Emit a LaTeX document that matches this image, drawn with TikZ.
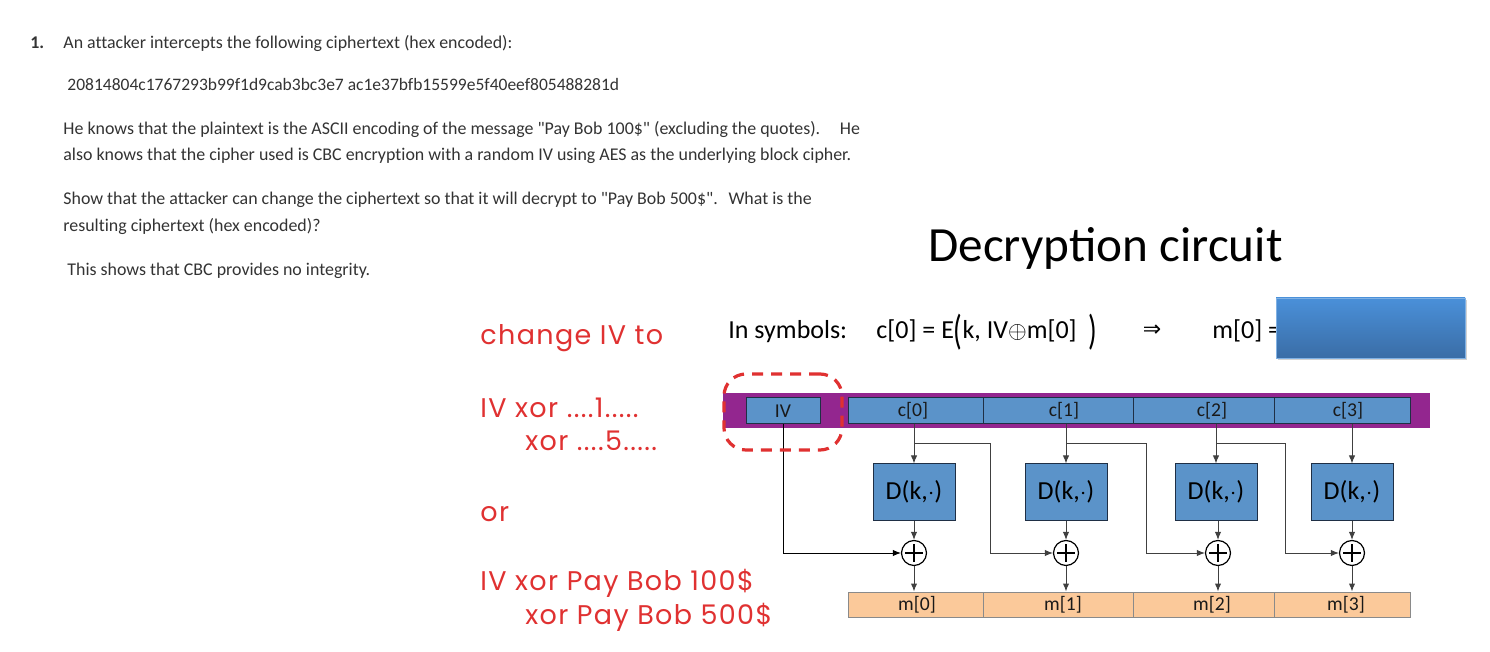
\documentclass[tikz,border=0pt]{standalone}
\usepackage{fontspec}
\setmainfont{Carlito}
\newfontfamily\bodyfont[Ligatures=NoCommon]{Carlito}
\newfontfamily\handfont[LetterSpace=5]{Poppins}
\newfontfamily\arrowfont{DejaVu Sans}
\usetikzlibrary{arrows.meta,shadows,calc}
\definecolor{barpurple}{HTML}{93268F}
\definecolor{cipherblue}{HTML}{5B93C9}
\definecolor{boxedge}{HTML}{1F2F45}
\definecolor{peach}{HTML}{FBC99A}
\definecolor{peachedge}{HTML}{8A8A8A}
\definecolor{handred}{HTML}{E03131}
\definecolor{bodytext}{HTML}{333333}
\definecolor{anstop}{HTML}{4A90D9}
\definecolor{ansbot}{HTML}{3A6DA6}
\newcommand{\sq}{\symbol{34}}
\tikzset{
  body/.style={anchor=base west, inner sep=0pt, text=bodytext, font=\bodyfont\fontsize{8.95}{10}\selectfont},
  hand/.style={anchor=base west, inner sep=0pt, text=handred, font=\handfont\fontsize{13.5}{15}\selectfont},
  cbox/.style={draw=boxedge, line width=0.5pt, fill=cipherblue, inner sep=0pt, minimum height=13pt},
  mbox/.style={draw=peachedge, line width=0.5pt, fill=peach, inner sep=0pt, minimum height=12.5pt},
  lbl/.style={inner sep=0pt, text=black!90, font=\fontsize{9.8}{10}\selectfont},
  dbox/.style={draw=boxedge, line width=0.5pt, fill=cipherblue, inner sep=0pt, minimum width=41pt, minimum height=28pt, font=\fontsize{13}{14}\selectfont},
  xorc/.style={circle, draw=black, line width=0.6pt, fill=white, inner sep=0pt, minimum size=12.5pt,
    path picture={\draw[line width=0.6pt] ([xshift=-4.3pt]path picture bounding box.center) -- ([xshift=4.3pt]path picture bounding box.center);
                  \draw[line width=0.6pt] ([yshift=-4.3pt]path picture bounding box.center) -- ([yshift=4.3pt]path picture bounding box.center);}},
  conn/.style={draw=black!75, line width=0.5pt, -{Latex[length=4pt,width=3.2pt]}},
  reddash/.style={draw=handred, line width=1.6pt, dash pattern=on 5.5pt off 4pt, rounded corners=11pt, inner sep=0pt},
  ansbox/.style={inner sep=0pt, top color=anstop, bottom color=ansbot, draw=anstop!70!white, line width=0.3pt,
    drop shadow={shadow xshift=0.8pt, shadow yshift=-0.8pt, opacity=0.35}}
}
\begin{document}
\begin{tikzpicture}[x=0.5pt,y=-0.5pt]
\useasboundingbox (0,0) rectangle (1490,652);
\fill[white] (0,0) rectangle (1490,652);

% ---- question text ----
\node[body] (qnum) at (30,49) {\textbf{1.}};
\node[body] (q1) at (63,49) {An attacker intercepts the following ciphertext (hex encoded):};
\node[body, font=\bodyfont\fontsize{8.75}{10}\selectfont] (hex) at (67,91) {20814804c1767293b99f1d9cab3bc3e7 ac1e37bfb15599e5f40eef805488281d};
\node[body] (p1a) at (63,135) {He knows that the plaintext is the ASCII encoding of the message \sq Pay Bob 100\$\sq{} (excluding the quotes).\hspace{1.1em}He};
\node[body] (p1b) at (63,161) {also knows that the cipher used is CBC encryption with a random IV using AES as the underlying block cipher.};
\node[body] (p2a) at (63,205) {Show that the attacker can change the ciphertext so that it will decrypt to \sq Pay Bob 500\$\sq.\hspace{0.6em}What is the};
\node[body] (p2b) at (63,232) {resulting ciphertext (hex encoded)?};
\node[body] (p3) at (67,276) {This shows that CBC provides no integrity.};

% ---- title and formula ----
\node[anchor=base west, inner sep=0pt, font=\fontsize{24.6}{28}\selectfont] (title) at (928,262) {Decryption circuit};
\node[anchor=base west, inner sep=0pt, font=\fontsize{13}{15}\selectfont] (sym) at (728,339) {In symbols:};
\node[anchor=base west, inner sep=0pt, font=\fontsize{13}{15}\selectfont] (eq) at (876,339) {c[0] = E\raisebox{-0.2em}{\scalebox{1.1}[1.6]{(}}k, IV$\oplus$m[0]\hspace{0.45em}\raisebox{-0.2em}{\scalebox{1.1}[1.6]{)}}};
\node[inner sep=0pt, font=\arrowfont\fontsize{11}{12}\selectfont] (impl) at (1152,331) {⇒};
\node[anchor=base west, inner sep=0pt, font=\fontsize{13}{15}\selectfont] (m0eq) at (1212,339) {m[0] =};
\node[ansbox, minimum width=94.5pt, minimum height=30pt] (ans) at (1370.5,328) {};

% ---- ciphertext bar ----
\fill[barpurple] (723,393) rectangle (1430,428);
\node[cbox, minimum width=37pt] (IV) at (783,411) {};
\node[lbl] (IVl) at (783,411) {IV};
\node[cbox, minimum width=67.5pt] (c0) at (915.5,411) {};
\node[cbox, minimum width=75pt] (c1) at (1058,411) {};
\node[cbox, minimum width=70.5pt] (c2) at (1203.5,411) {};
\node[cbox, minimum width=68pt] (c3) at (1342,411) {};
\node[lbl] (c0l) at (913,411) {c[0]};
\node[lbl] (c1l) at (1064,411) {c[1]};
\node[lbl] (c2l) at (1212,411) {c[2]};
\node[lbl] (c3l) at (1348,411) {c[3]};

% ---- decryption boxes ----
\node[dbox] (D0) at (914,492) {D(k,$\cdot$)};
\node[dbox] (D1) at (1066,492) {D(k,$\cdot$)};
\node[dbox] (D2) at (1216,492) {D(k,$\cdot$)};
\node[dbox] (D3) at (1352,492) {D(k,$\cdot$)};

% ---- xor ----
\node[xorc] (X0) at (914,553) {};
\node[xorc] (X1) at (1066,553) {};
\node[xorc] (X2) at (1218,553) {};
\node[xorc] (X3) at (1352,553) {};

% ---- plaintext bar ----
\node[mbox, minimum width=67.5pt] (m0) at (915.5,604.5) {};
\node[mbox, minimum width=75pt] (m1) at (1058,604.5) {};
\node[mbox, minimum width=70.5pt] (m2) at (1203.5,604.5) {};
\node[mbox, minimum width=68pt] (m3) at (1342,604.5) {};
\node[lbl] (m0l) at (917,604.5) {m[0]};
\node[lbl] (m1l) at (1063,604.5) {m[1]};
\node[lbl] (m2l) at (1212,604.5) {m[2]};
\node[lbl] (m3l) at (1346,604.5) {m[3]};

% ---- connectors ----
\coordinate (j0) at (914,444);
\coordinate (j1) at (1066,444);
\coordinate (j2) at (1216,444);
\coordinate (b0) at (990,444);
\coordinate (b1) at (1146,444);
\coordinate (b2) at (1285,444);

\draw[conn] (c0.south -| D0.north) -- (D0.north);
\draw[conn] (c1.south -| D1.north) -- (D1.north);
\draw[conn] (c2.south -| D2.north) -- (D2.north);
\draw[conn] (c3.south -| D3.north) -- (D3.north);

\draw[conn] (D0.south) -- (X0.north);
\draw[conn] (D1.south) -- (X1.north);
\draw[conn] (D2.south -| X2) -- (X2.north);
\draw[conn] (D3.south) -- (X3.north);

\draw[conn] (X0.south) -- (m0.north -| X0);
\draw[conn] (X1.south) -- (m1.north -| X1);
\draw[conn] (X2.south) -- (m2.north -| X2);
\draw[conn] (X3.south) -- (m3.north -| X3);

\draw[conn, draw=black] (IV.south) |- (X0.west);
\draw[conn] (j0) -- (b0) |- (X1.west);
\draw[conn] (j1) -- (b1) |- (X2.west);
\draw[conn] (j2) -- (b2) |- (X3.west);

% ---- red annotation ----
\node[reddash, minimum width=59pt, minimum height=38pt] (ivmark) at (783,412) {};
\node[hand] (h1) at (480,345) {change IV to};
\node[hand] (h2) at (480,417) {IV xor ....1.....};
\node[hand] (h3) at (525,451) {xor ....5.....};
\node[hand] (h4) at (480,521) {or};
\node[hand] (h5) at (480,590) {IV xor Pay Bob 100\$};
\node[hand] (h6) at (525,624) {xor Pay Bob 500\$};
\end{tikzpicture}
\end{document}
